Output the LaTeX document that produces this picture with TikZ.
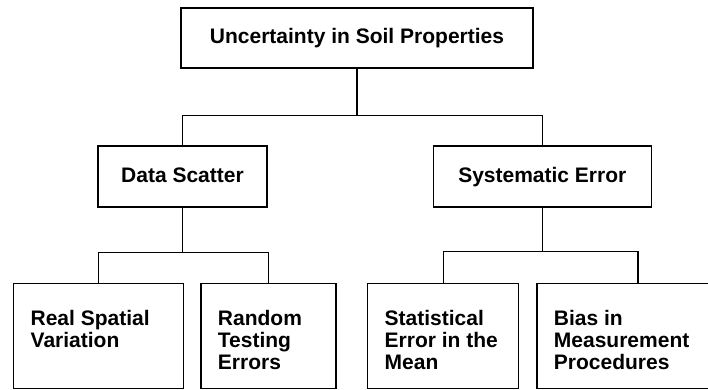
\documentclass[tikz,border=0pt]{standalone}
\usepackage{fontspec}
\setmainfont{Liberation Sans}
\usepackage{tikz}
\usetikzlibrary{positioning}
\tikzstyle{block} = [draw, line width=1.3pt, rectangle,
    font=\bfseries\fontsize{21}{22}\selectfont]
\tikzstyle{branch} = [block, text height=15.5pt, text depth=4.5pt]
\tikzstyle{leaf} = [block, anchor=north west, inner xsep=17pt, inner ysep=0pt]
\newcommand{\leaftext}[2]{\parbox[c][105pt][t]{#1}{\rule{0pt}{42pt}#2}}

\begin{document}
\begin{tikzpicture}[line width=1.3pt]
    \useasboundingbox (0,0) rectangle (708pt,-389pt);
    \fill[white] (0,0) rectangle (708pt,-389pt);

    % We start by placing the blocks
    \node [branch, minimum width=352pt, minimum height=60pt] (soil) at (357pt,-38pt) {Uncertainty in Soil Properties};
    \node [branch, minimum width=169pt, minimum height=61pt] (scatter) at (182.5pt,-176.5pt) {Data Scatter};
    \node [branch, minimum width=218pt, minimum height=61pt, right=165pt of scatter] (syserr) {Systematic Error};

    % The leaves, text set at the top left
    \node [leaf] (real) at (13pt,-283pt) {\leaftext{136pt}{Real Spatial\\Variation}};
    \node [leaf, right=16pt of real] (random) {\leaftext{101pt}{Random\\Testing\\Errors}};
    \node [leaf] (stat) at (367pt,-283pt) {\leaftext{117pt}{Statistical\\Error in the\\Mean}};
    \node [leaf, right=17pt of stat] (bias) {\leaftext{168pt}{Bias in\\Measurement\\Procedures}};

    % Once the nodes are placed, connecting them is easy.
    \draw (soil.south) -- ++(0,-47pt) -| (scatter.north);
    \draw (soil.south) -- ++(0,-47pt) -| (syserr.north);
    \draw (scatter.south) -- ++(0,-45pt) -| (real.north);
    \draw (scatter.south) -- ++(0,-45pt) -| (random.north);
    \draw (syserr.south) -- ++(0,-44pt) -| (stat.north);
    \draw (syserr.south) -- ++(0,-44pt) -| (bias.north);
\end{tikzpicture}
\end{document}
